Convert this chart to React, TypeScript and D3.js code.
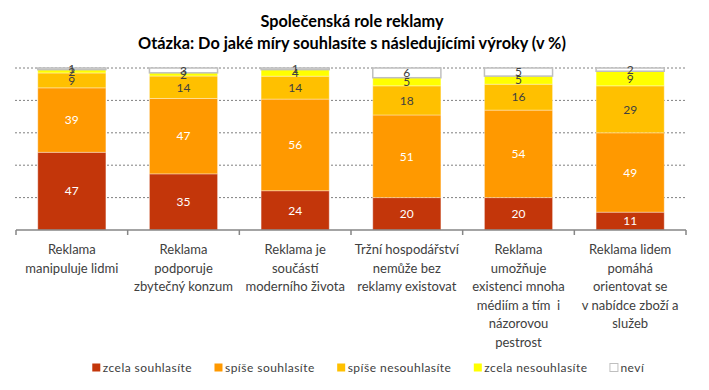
import React from "react";
import * as d3 from "d3";

const categoryLines: string[][] = [
  ["Reklama", "manipuluje lidmi"],
  ["Reklama", "podporuje", "zbytečný konzum"],
  ["Reklama je", "součástí", "moderního života"],
  ["Tržní hospodářství", "nemůže bez", "reklamy existovat"],
  ["Reklama", "umožňuje", "existenci mnoha", "médiím a tím  i", "názorovou", "pestrost"],
  ["Reklama lidem", "pomáhá", "orientovat se", "v nabídce zboží a", "služeb"],
];
const categories = categoryLines.map((l) => l.join(" "));

const seriesNames = ["zcela souhlasíte", "spíše souhlasíte", "spíše nesouhlasíte", "zcela nesouhlasíte", "neví"];
const zcelaSouhlasite = [47, 35, 24, 20, 20, 11];
const spiseSouhlasite = [39, 47, 56, 51, 54, 49];
const spiseNesouhlasite = [9, 14, 14, 18, 16, 29];
const zcelaNesouhlasite = [2, 2, 4, 5, 5, 9];
const nevi = [1, 3, 1, 6, 5, 2];
const seriesValues = [zcelaSouhlasite, spiseSouhlasite, spiseNesouhlasite, zcelaNesouhlasite, nevi];

const seriesColors = ["#C3360A", "#FF9900", "#FFC000", "#FFFF00", "#FFFFFF"];
const labelColors = ["#FFFFFF", "#FFFFFF", "#404040", "#404040", "#404040"];
const yTicks = [0, 0.2, 0.4, 0.6, 0.8, 1];

const titleLines = ["Společenská role reklamy", "Otázka: Do jaké míry souhlasíte s následujícími výroky (v %)"];

const W = 709;
const H = 390;
const plot = { left: 16, right: 686, top: 68, bottom: 230 };
const FONT = "Lato, 'Open Sans', sans-serif";

function measure(text: string, font: string): number {
  const c = document.createElement("canvas");
  const ctx = c.getContext("2d")!;
  ctx.font = font;
  return ctx.measureText(text).width;
}

export default function App() {
  const table = categories.map((c, i) => {
    const row: Record<string, number | string> = { category: c };
    seriesNames.forEach((s, j) => (row[s] = seriesValues[j][i]));
    return row;
  });
  const stack = d3.stack<any>().keys(seriesNames).offset(d3.stackOffsetExpand);
  const layers = stack(table as any);

  const x = d3.scaleBand<string>().domain(categories).range([plot.left, plot.right]).padding(0);
  const barW = x.bandwidth() * 0.61;
  const y = d3.scaleLinear().domain([0, 1]).range([plot.bottom, plot.top]);

  // legend layout
  const legendFontSize = 12;
  const legendLetter = 0.45;
  const legendFont = `${legendFontSize}px Lato`;
  const sq = 8;
  const textGap = 3;
  const itemGap = 22;
  const widths = seriesNames.map((s) => measure(s, legendFont) + legendLetter * s.length);
  const itemW = widths.map((w) => sq + textGap + w);
  const totalW = d3.sum(itemW) + itemGap * (seriesNames.length - 1);
  const legendStart = 368 - totalW / 2;
  const legendX: number[] = [];
  let acc = legendStart;
  itemW.forEach((w) => {
    legendX.push(acc);
    acc += w + itemGap;
  });
  const legendY = 367.5;

  const boundaries = d3.range(categories.length + 1).map((i) => plot.left + i * x.step());

  return (
    <svg width={W} height={H} style={{ position: "absolute", left: 0, top: 0, background: "#fff" }} fontFamily={FONT}>
      <rect x={0} y={0} width={W} height={H} fill="#fff" />
      {/* title */}
      <text x={352} y={27} textAnchor="middle" fontWeight="bold" fontSize={16.3} fill="#000">
        {titleLines[0]}
      </text>
      <text x={352} y={49} textAnchor="middle" fontWeight="bold" fontSize={16.3} fill="#000">
        {titleLines[1]}
      </text>

      {/* gridlines */}
      {yTicks.slice(1).map((t) => (
        <line key={t} x1={plot.left - 1} x2={plot.right} y1={y(t)} y2={y(t)} stroke="#808080" strokeWidth={1} strokeDasharray="2,2" />
      ))}

      {/* bars */}
      {layers.map((layer, j) => (
        <g key={layer.key}>
          {layer.map((d, i) => {
            const cx = x(categories[i])! + x.bandwidth() / 2;
            const y0 = y(d[0]);
            const y1 = y(d[1]);
            return (
              <rect
                key={i}
                x={cx - barW / 2}
                y={y1}
                width={barW}
                height={Math.max(0, y0 - y1)}
                fill={seriesColors[j]}
                stroke={j === 4 ? "#BFBFBF" : "rgba(255,255,255,0.35)"}
                strokeWidth={j === 4 ? 1.5 : 1}
              />
            );
          })}
        </g>
      ))}

      {/* labels */}
      {layers.map((layer, j) => (
        <g key={"l" + layer.key}>
          {layer.map((d, i) => {
            const cx = x(categories[i])! + x.bandwidth() / 2;
            const cy = (y(d[0]) + y(d[1])) / 2;
            return (
              <text key={i} x={cx} y={cy} dy="0.36em" textAnchor="middle" fontSize={12} fill={labelColors[j]}>
                {seriesValues[j][i]}
              </text>
            );
          })}
        </g>
      ))}

      {/* x axis */}
      <line x1={plot.left} x2={plot.right} y1={plot.bottom} y2={plot.bottom} stroke="#868686" strokeWidth={1.5} />
      {boundaries.map((bx, i) => (
        <line key={i} x1={bx} x2={bx} y1={plot.bottom} y2={plot.bottom + 5} stroke="#868686" strokeWidth={1.5} />
      ))}

      {/* category labels */}
      {categoryLines.map((lines, i) => {
        const cx = x(categories[i])! + x.bandwidth() / 2;
        return (
          <text key={i} x={cx} textAnchor="middle" fontSize={13} fill="#404040">
            {lines.map((ln, k) => (
              <tspan key={k} x={cx} y={254 + k * 18.6} style={{ whiteSpace: "pre" }}>
                {ln}
              </tspan>
            ))}
          </text>
        );
      })}

      {/* legend */}
      {seriesNames.map((s, j) => (
        <g key={s} transform={`translate(${legendX[j]},${legendY})`}>
          <rect
            x={0.5}
            y={-4}
            width={sq}
            height={sq}
            fill={seriesColors[j]}
            stroke={j === 4 ? "#BFBFBF" : "none"}
            strokeWidth={1}
          />
          <text x={sq + textGap} y={0} dy="0.35em" fontSize={legendFontSize} letterSpacing={legendLetter} fill="#404040" fontFamily="Lato">
            {s}
          </text>
        </g>
      ))}
    </svg>
  );
}
